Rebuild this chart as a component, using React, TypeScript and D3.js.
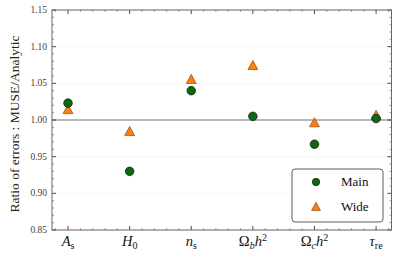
import React from "react";
import * as d3 from "d3";

// parameter order along the x axis
const params = ["As", "H0", "ns", "Obh2", "Och2", "tau"];
// ratio of errors
const mainVals = [1.023, 0.93, 1.04, 1.005, 0.967, 1.002];
const wideVals = [1.014, 0.984, 1.055, 1.074, 0.996, 1.006];
const yTicks = [0.85, 0.9, 0.95, 1.0, 1.05, 1.1, 1.15];

const W = 399;
const H = 260;
const m = { left: 52, right: 7.5, top: 10, bottom: 30 };

const GREEN = "#0b6a0b";
const ORANGE = "#ff7f0e";
const AXIS = "#666";
const SERIF = "Liberation Serif, Times New Roman, DejaVu Serif, serif";

function XLabel({ k }: { k: string }) {
  const it = { fontStyle: "italic" as const };
  const sub = { fontSize: 10 };
  switch (k) {
    case "As":
      return (<><tspan style={it}>A</tspan><tspan style={sub} dy={3}>s</tspan></>);
    case "H0":
      return (<><tspan style={it}>H</tspan><tspan style={sub} dy={3}>0</tspan></>);
    case "ns":
      return (<><tspan style={it}>n</tspan><tspan style={sub} dy={3}>s</tspan></>);
    case "Obh2":
      return (<>Ω<tspan style={{ ...it, fontSize: 10 }} dy={3}>b</tspan><tspan style={it} dy={-3}>h</tspan><tspan style={sub} dy={-5}>2</tspan></>);
    case "Och2":
      return (<>Ω<tspan style={{ ...it, fontSize: 10 }} dy={3}>c</tspan><tspan style={it} dy={-3}>h</tspan><tspan style={sub} dy={-5}>2</tspan></>);
    default:
      return (<><tspan style={it}>τ</tspan><tspan style={sub} dy={3}>re</tspan></>);
  }
}

function Triangle({ x, y, s }: { x: number; y: number; s: number }) {
  const h = s * 0.95;
  return (
    <path
      d={`M${x},${y - h * 0.62}L${x + s * 0.55},${y + h * 0.45}L${x - s * 0.55},${y + h * 0.45}Z`}
      fill={ORANGE}
      stroke="#8a4a10"
      strokeWidth={0.7}
    />
  );
}

export default function App() {
  const iw = W - m.left - m.right;
  const ih = H - m.top - m.bottom;

  const x = d3.scaleLinear().domain([-0.26, 5.25]).range([m.left, m.left + iw]);
  const y = d3.scaleLinear().domain([0.85, 1.15]).range([m.top + ih, m.top]);

  const xMinor = d3.range(-0.2, 5.25, 0.2).filter((v) => Math.abs(v - Math.round(v)) > 0.01);
  const yMinor = d3.range(0.85, 1.1501, 0.01).filter((v) => Math.abs(v * 20 - Math.round(v * 20)) > 0.01);

  const x0 = m.left, x1 = m.left + iw, yb = m.top + ih, yt = m.top;

  return (
    <svg width={W} height={H} style={{ position: "absolute", left: 0, top: 0, fontFamily: SERIF }}>
      <rect width={W} height={H} fill="#fff" />
      {/* grid */}
      {yTicks.map((t) => (
        <line key={"g" + t} x1={x0} x2={x1} y1={y(t)} y2={y(t)} stroke="#f2f2f2" strokeWidth={0.8} />
      ))}
      {/* reference line at 1 */}
      <line x1={x0} x2={x1} y1={y(1)} y2={y(1)} stroke="#777" strokeWidth={1} />

      {/* ticks */}
      {yTicks.map((t) => (
        <g key={"yt" + t}>
          <line x1={x0} x2={x0 + 4} y1={y(t)} y2={y(t)} stroke="#222" strokeWidth={0.8} />
          <line x1={x1} x2={x1 - 4} y1={y(t)} y2={y(t)} stroke="#222" strokeWidth={0.8} />
          <text x={x0 - 5} y={y(t) + 3} textAnchor="end" fontSize={9.5} fill="#444">
            {t.toFixed(2)}
          </text>
        </g>
      ))}
      {yMinor.map((t) => (
        <g key={"ym" + t}>
          <line x1={x0} x2={x0 + 2} y1={y(t)} y2={y(t)} stroke="#555" strokeWidth={0.6} />
          <line x1={x1} x2={x1 - 2} y1={y(t)} y2={y(t)} stroke="#555" strokeWidth={0.6} />
        </g>
      ))}
      {params.map((p, i) => (
        <g key={"xt" + p}>
          <line x1={x(i)} x2={x(i)} y1={yb} y2={yb - 4} stroke="#222" strokeWidth={0.8} />
          <line x1={x(i)} x2={x(i)} y1={yt} y2={yt + 4} stroke="#222" strokeWidth={0.8} />
          <text x={x(i)} y={yb + 16} textAnchor="middle" fontSize={14.5} fill="#111">
            <XLabel k={p} />
          </text>
        </g>
      ))}
      {xMinor.map((v) => (
        <g key={"xm" + v}>
          <line x1={x(v)} x2={x(v)} y1={yb} y2={yb - 2} stroke="#555" strokeWidth={0.6} />
          <line x1={x(v)} x2={x(v)} y1={yt} y2={yt + 2} stroke="#555" strokeWidth={0.6} />
        </g>
      ))}

      {/* frame */}
      <rect x={x0} y={yt} width={iw} height={ih} fill="none" stroke={AXIS} strokeWidth={1} />

      {/* points */}
      {params.map((p, i) => (
        <Triangle key={"w" + p} x={x(i)} y={y(wideVals[i])} s={9} />
      ))}
      {params.map((p, i) => (
        <circle key={"m" + p} cx={x(i)} cy={y(mainVals[i])} r={4.3} fill={GREEN} stroke="#111" strokeWidth={0.7} />
      ))}

      {/* y label */}
      <text
        transform={`translate(19,${(yt + yb) / 2 + 4}) rotate(-90)`}
        textAnchor="middle"
        fontSize={13.5}
        fill="#222"
      >
        Ratio of errors : MUSE/Analytic
      </text>

      {/* legend */}
      <g>
        <rect x={292} y={169} width={91} height={53} rx={3} fill="#fff" stroke="#333" strokeWidth={0.8} />
        <circle cx={316} cy={182} r={3.7} fill={GREEN} stroke="#111" strokeWidth={0.7} />
        <text x={341} y={186} fontSize={13} fill="#111">Main</text>
        <Triangle x={316} y={207} s={8} />
        <text x={341} y={211} fontSize={13} fill="#111">Wide</text>
      </g>
    </svg>
  );
}
